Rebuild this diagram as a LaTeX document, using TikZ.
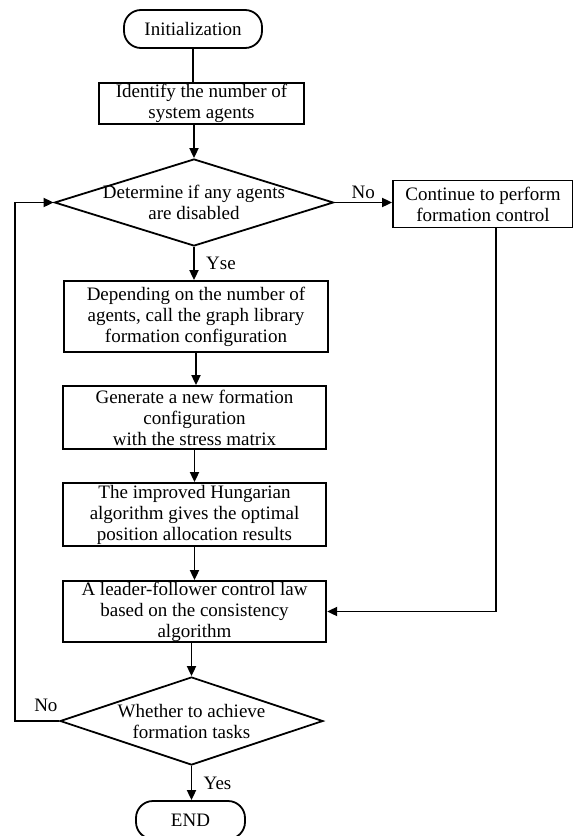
\documentclass[tikz,border=0pt]{standalone}
\usepackage{fontspec}
\setmainfont{Liberation Serif}
\usetikzlibrary{arrows.meta, shapes.geometric}

\begin{document}
\begin{tikzpicture}[
  x=1pt, y=-1pt, line width=1.8pt,
  >={Triangle[length=10pt,width=9pt]}, font=\fontsize{19}{21}\selectfont,
  term/.style={rectangle, rounded corners=17pt, draw, minimum height=38pt, inner sep=0pt},
  proc/.style={rectangle, draw, align=center, inner sep=0pt},
  decide/.style={diamond, draw, inner sep=0pt}
]
  \clip (0,0) rectangle (573,836);
  \node[term, minimum width=138pt] (init) at (193,29) {Initialization};
  \node[proc, minimum width=205pt, minimum height=41pt] (ident) at (201.5,103.5) {Identify the number of\\ system agents};
  \node[decide, minimum width=279pt, minimum height=87pt, label={[align=center]center:Determine if any agents\\ are disabled}] (check) at (194,202.5) {};
  \node[proc, minimum width=180pt, minimum height=47pt] (cont) at (483,204) {Continue to perform\\ formation control};
  \node[proc, minimum width=264pt, minimum height=71pt] (dep) at (196,316.5) {Depending on the number of\\ agents, call the graph library\\ formation configuration};
  \node[proc, minimum width=263.5pt, minimum height=63pt] (gen) at (194.5,417.5) {Generate a new formation\\ configuration\\ with the stress matrix};
  \node[proc, minimum width=263.5pt, minimum height=63pt] (hung) at (194.5,514.5) {The improved Hungarian\\ algorithm gives the optimal\\ position allocation results};
  \node[proc, minimum width=263.5pt, minimum height=61pt] (leader) at (194.5,611.5) {A leader-follower control law\\ based on the consistency\\ algorithm};
  \node[decide, minimum width=263pt, minimum height=88pt, label={[align=center]center:Whether to achieve\\ formation tasks}] (task) at (191.5,721) {};
  \node[term, minimum width=109pt] (endn) at (190.5,820) {END};
  \coordinate (back) at (15,721);
  \draw (init.south) -- (init.south |- ident.north);
  \draw[->] (ident.south -| check.north) -- (check.north);
  \draw[->] (check.east) -- node[above]{No} (check.east -| cont.west);
  \draw[->] (check.south) -- node[right=8pt]{Yse} (check.south |- dep.north);
  \draw[->] (dep.south) -- (dep.south |- gen.north);
  \draw[->] (gen.south) -- (hung.north);
  \draw[->] (hung.south) -- (leader.north);
  \draw[->] ([xshift=13pt]cont.south) |- (leader.east);
  \draw[->] (leader.south -| task.north) -- (task.north);
  \draw[->] (task.west) -- node[pos=0.3, above=5pt]{No} (back) |- (check.west);
  \draw[->] (task.south) -- node[right=8pt]{Yes} (task.south |- endn.north);
\end{tikzpicture}
\end{document}
